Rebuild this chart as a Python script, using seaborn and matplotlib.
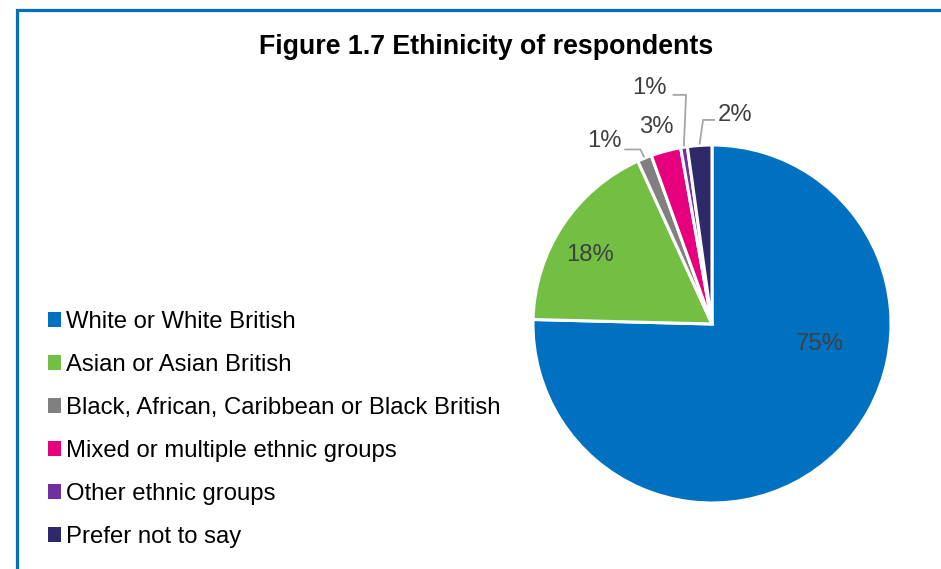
import matplotlib
matplotlib.use("Agg")
import matplotlib.pyplot as plt
from matplotlib.patches import Patch, Rectangle
import numpy as np
import seaborn as sns

# Survey breakdown of respondents by ethnicity (percent)
categories = [
    "White or White British",
    "Asian or Asian British",
    "Black, African, Caribbean or Black British",
    "Mixed or multiple ethnic groups",
    "Other ethnic groups",
    "Prefer not to say",
]
shares = [75.4, 17.8, 1.3, 2.7, 0.6, 2.2]
labels = ["75%", "18%", "1%", "3%", "1%", "2%"]

colors = sns.color_palette(["#0070C0", "#72BF44", "#808080", "#E6007E", "#7030A0", "#2E2A6A"])

sns.set_theme(style="white")
plt.rcParams["font.family"] = ["Liberation Sans", "DejaVu Sans"]

W, H = 941, 569
fig = plt.figure(figsize=(W / 100, H / 100), dpi=100)
fig.patch.set_facecolor("white")

# Outer blue frame (open to the right and bottom)
fig.patches.append(Rectangle((17 / W, -0.2), 1.5, (H - 9.5) / H + 0.2,
                             transform=fig.transFigure, fill=False,
                             edgecolor="#0070C0", linewidth=2.3, zorder=0))

fig.text(486 / W, 1 - 47 / H, "Figure 1.7 Ethinicity of respondents",
         ha="center", va="center", fontsize=19.3, fontweight="bold", color="black")

# Pie axes: centre (712, 324) px, radius 179 px
cx, cy, r = 712, 324, 179
lim = 1.3
ax = fig.add_axes([(cx - r * lim) / W, (H - cy - r * lim) / H, 2 * r * lim / W, 2 * r * lim / H])
wedges, _ = ax.pie(shares, colors=colors, startangle=90, counterclock=False,
                   wedgeprops=dict(edgecolor="white", linewidth=2.2))
ax.set_xlim(-lim, lim)
ax.set_ylim(-lim, lim)
ax.set_aspect("equal")
ax.axis("off")

# Label anchor points (in pie radius units) and optional leader elbows
label_pos = [(0.60, -0.11), (-0.68, 0.385), (-0.60, 1.02), (-0.31, 1.10), (-0.35, 1.32), (0.13, 1.17)]
leaders = {
    2: [(-0.49, 0.975), (-0.40, 0.975)],
    4: [(-0.22, 1.28), (-0.145, 1.28)],
    5: [(0.017, 1.14), (-0.05, 1.14)],
}
text_color = "#404040"
for i, (w, lab, (lx, ly)) in enumerate(zip(wedges, labels, label_pos)):
    ax.text(lx, ly, lab, ha="center", va="center", fontsize=17.2, color=text_color)
    if i in leaders:
        mid = np.deg2rad((w.theta1 + w.theta2) / 2)
        ex, ey = 1.005 * np.cos(mid), 1.005 * np.sin(mid)
        pts = leaders[i] + [(ex, ey)]
        xs, ys = zip(*pts)
        ax.plot(xs, ys, color="#A6A6A6", lw=1.3, solid_capstyle="butt", clip_on=False)

handles = [Patch(facecolor=c, edgecolor="none") for c in colors]
fig.legend(handles, categories, loc="upper left", bbox_to_anchor=(48 / W, 1 - 311 / H),
           frameon=False, fontsize=17.2, handlelength=0.55, handleheight=0.55,
           handletextpad=0.2, labelspacing=0.88, borderaxespad=0, borderpad=0,
           labelcolor="black")

fig.savefig("out.png", dpi=100, facecolor="white")
